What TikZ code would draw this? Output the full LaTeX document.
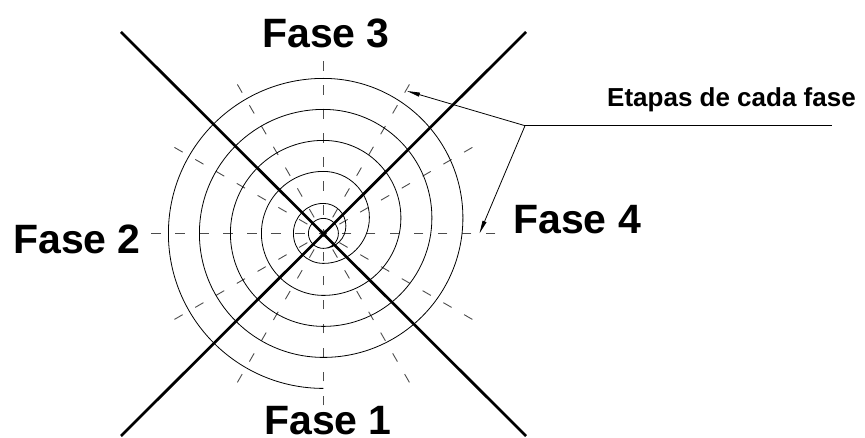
\documentclass[tikz,border=0pt]{standalone}
\usepackage{fontspec}
\setmainfont{Liberation Sans}
\usetikzlibrary{arrows.meta,calc}
\begin{document}
\begin{tikzpicture}[x=1pt,y=1pt,
  thickline/.style={line width=2.7pt},
  spiralline/.style={line width=0.8pt},
  rayline/.style={line width=0.9pt, black!70, dash pattern=on 9.5pt off 14.5pt},
  lbl/.style={inner sep=0pt, font=\bfseries\fontsize{41}{41}\selectfont},
  smalllbl/.style={inner sep=0pt, font=\bfseries\fontsize{26}{26}\selectfont},
  leader/.style={line width=0.8pt},
  tipped/.style={-{Triangle[length=13pt,width=4pt]}}]
\useasboundingbox (0,0) rectangle (865,-438);
\coordinate (C) at (323.4,-233.4);
% dashed rays
\foreach \a in {0,30,...,330} {
  \coordinate (r\a) at ($(C)+(\a:172)$);
  \draw[rayline] (r\a) -- (C);
}
% thick diagonals
\coordinate (tl) at (121,-32);
\coordinate (br) at (526,-436);
\coordinate (tr) at (526,-32);
\coordinate (bl) at (121,-436);
\draw[thickline] (tl) -- (br);
\draw[thickline] (tr) -- (bl);
% spiral
\draw[spiralline] ($(C)+(0,-15)$)
  arc[start angle=-90,end angle=270,radius=15]
  arc[start angle=-90,end angle=90,radius=22.5]
  arc[start angle=90,end angle=270,radius=30]
  arc[start angle=-90,end angle=90,radius=46]
  arc[start angle=90,end angle=270,radius=62]
  arc[start angle=-90,end angle=90,radius=77.5]
  arc[start angle=90,end angle=270,radius=93]
  arc[start angle=-90,end angle=90,radius=108.5]
  arc[start angle=90,end angle=270,radius=124]
  arc[start angle=-90,end angle=90,radius=139.5]
  arc[start angle=90,end angle=270,radius=155];
% labels
\node[lbl, anchor=base west] (f3) at (262,-48) {Fase 3};
\node[lbl, anchor=base west] (f2) at (13,-253.3) {Fase 2};
\node[lbl, anchor=base west] (f4) at (513,-233.4) {Fase 4};
\node[lbl, anchor=base west] (f1) at (264,-434.5) {Fase 1};
\node[smalllbl, anchor=base west] (et) at (607,-106.7) {Etapas de cada fase};
% leader lines
\coordinate (J) at (525,-125.7);
\coordinate (E) at (831.7,-125.7);
\coordinate (a1) at (407,-91);
\coordinate (a2) at (479.5,-233.4);
\draw[leader] (E) -- (J);
\draw[leader,tipped] (J) -- (a1);
\draw[leader,tipped] (J) -- (a2);
\end{tikzpicture}
\end{document}
